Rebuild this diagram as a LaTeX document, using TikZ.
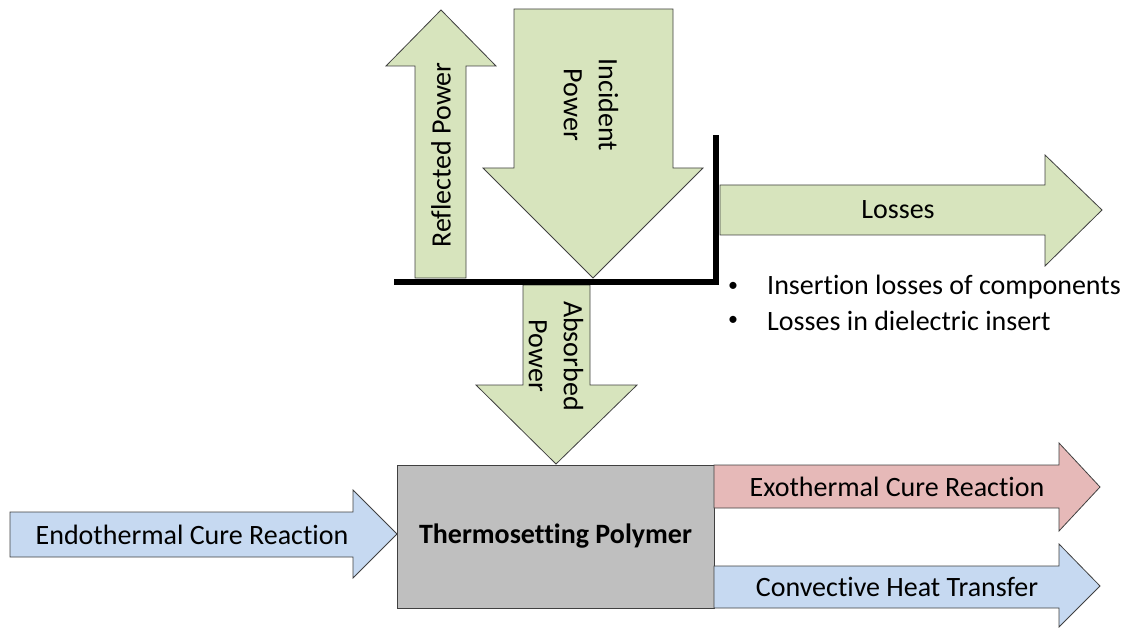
\documentclass[tikz,border=0pt]{standalone}
\usepackage{fontspec}
\setmainfont[Ligatures=NoCommon]{Carlito}
\definecolor{greenfill}{HTML}{D7E4BD}
\definecolor{bluefill}{HTML}{C6D9F1}
\definecolor{redfill}{HTML}{E6B9B8}
\definecolor{boxgray}{HTML}{BFBFBF}
\begin{document}
\begin{tikzpicture}[x=1pt,y=-1pt,
  flow/.style={draw=black!75, line width=0.8pt, line join=miter},
  lbl/.style={font=\fontsize{28}{35}\selectfont, inner sep=0pt, align=center},
  wall/.style={line width=6pt, line cap=rect}]
\useasboundingbox (0,0) rectangle (1134,628);

% power arrows around the applicator
\draw[flow, fill=greenfill] (415,278) -- (415,66) -- (386,66) -- (441,10)
  -- (496,66) -- (466,66) -- (466,278) -- cycle;
\draw[flow, fill=greenfill] (514,9) -- (673,9) -- (673,168) -- (703,168)
  -- (593,278) -- (483,168) -- (514,168) -- cycle;
\draw[flow, fill=greenfill] (523,285) -- (590,285) -- (590,385) -- (637,385)
  -- (556,464) -- (476,385) -- (523,385) -- cycle;
\draw[flow, fill=greenfill] (720,185) -- (1045,185) -- (1045,155) -- (1102,210)
  -- (1045,266) -- (1045,235) -- (720,235) -- cycle;

% applicator walls
\coordinate (wl) at (397,282);
\coordinate (wc) at (716,282);
\coordinate (wt) at (716,138);
\draw[wall] (wl) -- (wc) -- (wt);

% heat balance of the polymer
\node[draw=black!75, line width=0.8pt, fill=boxgray, minimum width=317pt,
  minimum height=143pt, inner sep=0pt,
  font=\fontsize{28}{34}\selectfont\bfseries] (poly) at (555.5,536.5)
  {Thermosetting Polymer};
\draw[flow, fill=bluefill] (10,512) -- (353,512) -- (353,490) -- (397,534)
  -- (353,578) -- (353,557) -- (10,557) -- cycle;
\draw[flow, fill=redfill] (714,465) -- (1059,465) -- (1059,443) -- (1100,487)
  -- (1059,531) -- (1059,508) -- (714,508) -- cycle;
\draw[flow, fill=bluefill] (714,566) -- (1059,566) -- (1059,544) -- (1100,586)
  -- (1059,627) -- (1059,608) -- (714,608) -- cycle;

% labels
\node[lbl, rotate=90] (refl) at (441,155) {Reflected Power};
\node[lbl, rotate=-90] (inc) at (591,105) {Incident\\Power};
\node[lbl, rotate=-90] (abs) at (556,356) {Absorbed\\Power};
\node[lbl] (loss) at (898,210) {Losses};
\node[lbl] (endo) at (192,535) {Endothermal Cure Reaction};
\node[lbl] (exo) at (897,487) {Exothermal Cure Reaction};
\node[lbl] (conv) at (897,587) {Convective Heat Transfer};

\node[lbl, font=\fontsize{20}{24}\selectfont] (b1) at (733,287) {•};
\node[lbl, anchor=west] (t1) at (767,287) {Insertion losses of components};
\node[lbl, font=\fontsize{20}{24}\selectfont] (b2) at (733,321) {•};
\node[lbl, anchor=west] (t2) at (767,321) {Losses in dielectric insert};
\end{tikzpicture}
\end{document}
